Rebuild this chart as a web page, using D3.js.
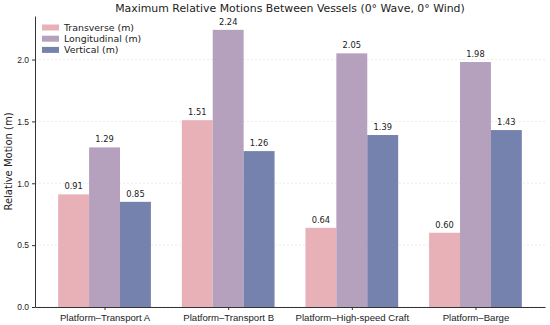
<!DOCTYPE html>
<html>
<head>
<meta charset="utf-8">
<script src="https://cdn.jsdelivr.net/npm/d3@7"></script>
<style>
body{margin:0;background:#fff;}
svg{font-family:"DejaVu Sans",sans-serif;}
.grid line{stroke:#ddd;stroke-dasharray:2,2;stroke-width:0.6}
.axis path,.axis line{stroke:#333;}
.axis text{fill:#222;font-size:8.5px;}
</style>
</head>
<body>
<svg id="graph"></svg>
<script>
var categories=["Platform\u2013Transport A","Platform\u2013Transport B","Platform\u2013High-speed Craft","Platform\u2013Barge"]
var seriesNames=["Transverse (m)","Longitudinal (m)","Vertical (m)"]
var transverse=[0.91,1.51,0.64,0.60]
var longitudinal=[1.29,2.24,2.05,1.98]
var vertical=[0.85,1.26,1.39,1.43]
var yTicks=[0.0,0.5,1.0,1.5,2.0]
var colors=["#e8b0b7","#b5a0be","#7582ae"]

var screen={width:550,height:325}
var margins={left:35,right:5,top:16,bottom:18}
var graph={
  width:screen.width-margins.left-margins.right,
  height:screen.height-margins.top-margins.bottom
}

var svg=d3.select("#graph")
  .attr("width",screen.width)
  .attr("height",screen.height)

var series=[transverse,longitudinal,vertical]
var barW=0.25

// matplotlib-like limits
var xScale=d3.scaleLinear()
  .domain([-0.5625,3.5625])
  .range([0,graph.width])
var yscale=d3.scaleLinear()
  .domain([0,2.352])
  .range([graph.height,0])

var target=svg.append("g")
  .attr("transform","translate("+margins.left+","+margins.top+")")

// grid
target.append("g").classed("grid",true)
  .selectAll("line")
  .data(yTicks)
  .enter()
  .append("line")
  .attr("x1",0)
  .attr("x2",graph.width)
  .attr("y1",function(d){return yscale(d)})
  .attr("y2",function(d){return yscale(d)})

// bars
series.forEach(function(vals,s){
  var g=target.append("g")
  g.selectAll("rect")
    .data(vals)
    .enter()
    .append("rect")
    .attr("x",function(d,i){return xScale(i+(s-1)*barW-barW/2)})
    .attr("width",xScale(barW)-xScale(0))
    .attr("y",function(d){return yscale(d)})
    .attr("height",function(d){return yscale(0)-yscale(d)})
    .attr("fill",colors[s])
  g.selectAll("text")
    .data(vals)
    .enter()
    .append("text")
    .text(function(d){return d.toFixed(2)})
    .attr("text-anchor","middle")
    .attr("font-size","8.3px")
    .attr("fill","#222")
    .attr("x",function(d,i){return xScale(i+(s-1)*barW)})
    .attr("y",function(d){return yscale(d)-5})
})

// axes
var xAxis=d3.axisBottom(xScale)
  .tickValues([0,1,2,3])
  .tickFormat(function(d){return categories[d]})
  .tickSize(3)
  .tickSizeOuter(0)
var yAxis=d3.axisLeft(yscale)
  .tickValues(yTicks)
  .tickFormat(d3.format(".1f"))
  .tickSize(3)
  .tickSizeOuter(0)

target.append("g").classed("axis",true)
  .attr("transform","translate(0,"+graph.height+")")
  .call(xAxis)
  .selectAll("text").style("font-size","9.6px").attr("dy","0.85em")
target.append("g").classed("axis",true)
  .call(yAxis)

target.selectAll(".axis .domain").attr("stroke-width",1)

// labels
svg.append("text")
  .text("Maximum Relative Motions Between Vessels (0\u00b0 Wave, 0\u00b0 Wind)")
  .attr("text-anchor","middle")
  .attr("font-size","10.9px")
  .attr("fill","#222")
  .attr("x",margins.left+graph.width/2)
  .attr("y",12)

svg.append("g")
  .attr("transform","translate(12,"+(margins.top+graph.height/2)+")")
  .append("text")
  .text("Relative Motion (m)")
  .attr("text-anchor","middle")
  .attr("font-size","10px")
  .attr("fill","#222")
  .attr("transform","rotate(-90)")

// legend
var legend=svg.append("g")
  .attr("transform","translate(42,24.5)")
seriesNames.forEach(function(name,i){
  legend.append("rect")
    .attr("x",0).attr("y",i*11.2)
    .attr("width",17).attr("height",6)
    .attr("fill",colors[i])
  legend.append("text")
    .text(name)
    .attr("x",22).attr("y",i*11.2+6.3)
    .attr("font-size","9.4px")
    .attr("fill","#222")
})
</script>
</body>
</html>
